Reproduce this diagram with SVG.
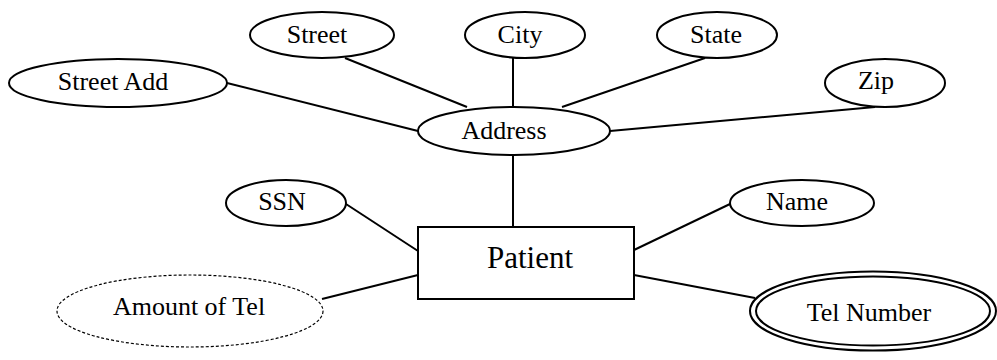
<svg xmlns="http://www.w3.org/2000/svg" width="997" height="360" viewBox="0 0 997 360">
<style>
.a{fill:#fff;stroke:#000;stroke-width:2}
.d{fill:#fff;stroke:#000;stroke-width:1.2;stroke-dasharray:3 2}
.t{font-family:"Liberation Serif","Times New Roman",serif;font-size:26px;fill:#000;text-anchor:middle}
.p{font-size:31px}
.c line{stroke:#000;stroke-width:2}
</style>
<rect width="997" height="360" fill="#fff"/>
<g class="c" id="connectors">
<line x1="227" y1="83" x2="418" y2="131"/>
<line x1="345" y1="58" x2="467" y2="107"/>
<line x1="513" y1="58" x2="513" y2="107"/>
<line x1="705" y1="58" x2="562" y2="107"/>
<line x1="875" y1="107" x2="610" y2="131"/>
<line x1="513" y1="155" x2="513" y2="227"/>
<line x1="346" y1="204" x2="418" y2="251"/>
<line x1="322" y1="299" x2="418" y2="275"/>
<line x1="634" y1="250" x2="730" y2="204"/>
<line x1="634" y1="275" x2="755" y2="298"/>
</g>
<g id="street"><ellipse class="a" cx="322" cy="35" rx="72" ry="23"/><text class="t" x="317" y="43">Street</text></g>
<g id="city"><ellipse class="a" cx="525" cy="35" rx="60" ry="23"/><text class="t" x="520" y="43">City</text></g>
<g id="state"><ellipse class="a" cx="717" cy="35" rx="60" ry="23"/><text class="t" x="716" y="43">State</text></g>
<g id="streetadd"><ellipse class="a" cx="118" cy="83" rx="109" ry="24"/><text class="t" x="113" y="90">Street Add</text></g>
<g id="zip"><ellipse class="a" cx="885" cy="83" rx="60" ry="24"/><text class="t" x="876" y="89">Zip</text></g>
<g id="address"><ellipse class="a" cx="514" cy="131" rx="96" ry="24"/><text class="t" x="504" y="139">Address</text></g>
<g id="ssn"><ellipse class="a" cx="286" cy="203" rx="60" ry="23"/><text class="t" x="282" y="210">SSN</text></g>
<g id="name"><ellipse class="a" cx="802" cy="203" rx="72" ry="23"/><text class="t" x="797" y="210">Name</text></g>
<g id="patient"><rect class="a" x="418" y="227" width="216" height="72"/><text class="t p" x="530" y="268">Patient</text></g>
<g id="amount"><ellipse class="d" cx="190" cy="311" rx="133" ry="36"/><text class="t" x="189" y="315">Amount of Tel</text></g>
<g id="telnumber"><ellipse class="a" cx="873" cy="311" rx="123" ry="39.5"/><ellipse class="a" cx="873" cy="311" rx="117" ry="34.5"/><text class="t" x="869" y="321">Tel Number</text></g>
</svg>
